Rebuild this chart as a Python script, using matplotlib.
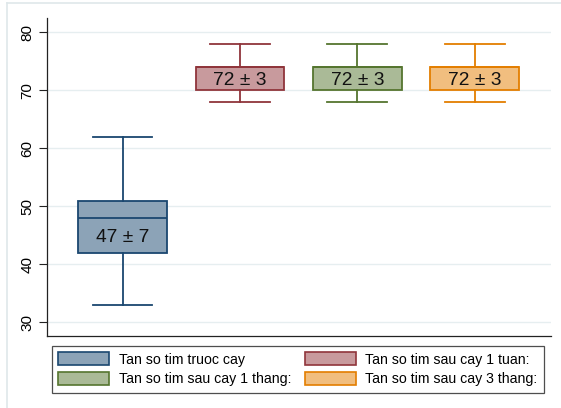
import matplotlib
matplotlib.use("Agg")
import matplotlib.pyplot as plt
from matplotlib.patches import Patch
from matplotlib.lines import Line2D

plt.rcParams['font.family'] = ['Liberation Sans', 'DejaVu Sans']

# Heart rate groups (box summaries) and mean ± SD annotations
groups = ["Tan so tim truoc cay", "Tan so tim sau cay 1 tuan:",
          "Tan so tim sau cay 1 thang:", "Tan so tim sau cay 3 thang:"]
whis_lo = [33, 68, 68, 68]
q1 = [42, 70, 70, 70]
median = [48, 74, 74, 74]
q3 = [51, 74, 74, 74]
whis_hi = [62, 78, 78, 78]
means = [47, 72, 72, 72]
sds = [7, 3, 3, 3]
y_ticks = [30, 40, 50, 60, 70, 80]

edge_colors = ["#1a476f", "#90353b", "#55752f", "#e37e00"]
fill_colors = ["#8ca3b7", "#c89a9d", "#aaba97", "#f1be7f"]

W, H = 561, 408
fig = plt.figure(figsize=(W / 100, H / 100), dpi=100)

# light outer frame
fig.add_artist(Line2D([7 / W, 1], [1 - 3 / H, 1 - 3 / H], color="#dfe7ea", lw=1.2))
fig.add_artist(Line2D([7 / W, 7 / W], [0, 1 - 3 / H], color="#dfe7ea", lw=1.2))

ax = fig.add_axes([47 / W, 1 - 336 / H, 504 / W, 318 / H])
ax.set_xlim(0.357, 4.649)
ax.set_ylim(27.64, 82.47)

for y in y_ticks:
    ax.axhline(y, color="#e6eef0", lw=1.0, zorder=0)

positions = list(range(1, len(groups) + 1))
stats = [dict(whislo=whis_lo[i], q1=q1[i], med=median[i], q3=q3[i],
              whishi=whis_hi[i], fliers=[]) for i in range(len(groups))]

for i, st in enumerate(stats):
    ec = edge_colors[i]
    ax.bxp([st], positions=[positions[i]], widths=0.755, capwidths=0.51,
           patch_artist=True, showfliers=False,
           boxprops=dict(facecolor=fill_colors[i], edgecolor=ec, linewidth=1.3),
           medianprops=dict(color=ec, linewidth=1.3),
           whiskerprops=dict(color=ec, linewidth=1.3),
           capprops=dict(color=ec, linewidth=1.3),
           manage_ticks=False)
    ax.text(positions[i], (q1[i] + median[i]) / 2, f"{means[i]} ± {sds[i]}",
            ha="center", va="center_baseline", fontsize=13.8, color="#111111",
            zorder=5)

ax.set_yticks(y_ticks)
ax.set_yticklabels([str(v) for v in y_ticks], rotation=90, va="center",
                   fontsize=11)
ax.tick_params(axis="y", length=6, width=0.8, pad=3, color="#222222")
ax.set_xticks([])
for s in ["top", "right"]:
    ax.spines[s].set_visible(False)
for s in ["left", "bottom"]:
    ax.spines[s].set_color("#222222")
    ax.spines[s].set_linewidth(0.9)

handles = [Patch(facecolor=fill_colors[i], edgecolor=edge_colors[i], lw=1.2)
           for i in range(len(groups))]
order = [0, 2, 1, 3]
leg = fig.legend([handles[i] for i in order], [groups[i] for i in order],
                 ncol=2, loc="upper left",
                 bbox_to_anchor=(52 / W, 1 - 346 / H), borderaxespad=0,
                 fontsize=10.2, frameon=True, fancybox=False,
                 handlelength=3.6, handleheight=1.0, handletextpad=0.65,
                 columnspacing=1.0, labelspacing=0.4, borderpad=0.45)
leg.get_frame().set_edgecolor("#222222")
leg.get_frame().set_linewidth(0.9)

fig.savefig("out.png", dpi=100)
